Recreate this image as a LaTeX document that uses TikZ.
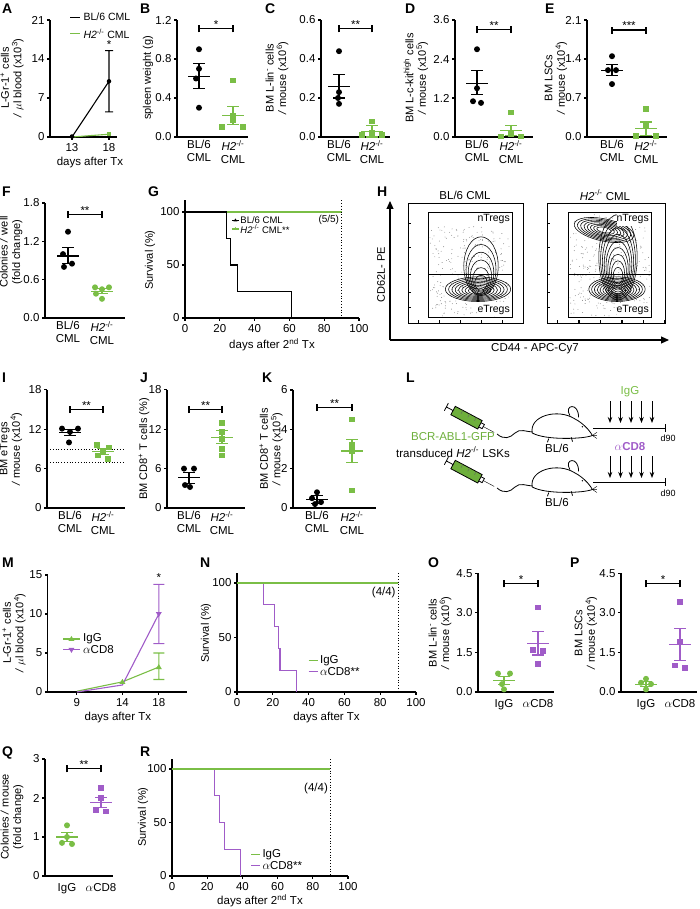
\documentclass[tikz,border=0pt]{standalone}
\usepackage{fontspec}
\setmainfont{Liberation Sans}
\usetikzlibrary{arrows.meta,positioning}
\definecolor{cg}{RGB}{122,190,70}
\definecolor{cp}{RGB}{160,92,200}
\definecolor{syr}{RGB}{110,175,60}
\newcommand\tickfont{\fontsize{11.5}{13}\selectfont}
\newcommand\legfont{\fontsize{10.5}{12}\selectfont}
\newcommand\hko{\textit{H2}\textsuperscript{-/-}}
% mean and sem bar
\newcommand\meansem[4]{\draw[semline] (#1-11,#2)--(#1+11,#2) (#1,#3)--(#1,#4) (#1-6,#3)--(#1+6,#3) (#1-6,#4)--(#1+6,#4);}
% significance bar
\newcommand\sigbar[4]{\draw[semline,black] (#1,#3) ++(0,-3.5pt) -- ++(0,7pt) ++(0,-3.5pt) -- (#2,#3) ++(0,-3.5pt) -- ++(0,7pt);
  \node[above=-1pt,inner sep=1pt] at ({(#1+#2)/2},#3) {#4};}
\tikzset{
  axisl/.style={line width=1.1pt},
  semline/.style={line width=1.1pt},
  tick/.style={left=1pt,inner sep=1pt},
  dotk/.style={circle,fill=black,inner sep=0pt,minimum size=6pt},
  dotg/.style={circle,fill=cg,inner sep=0pt,minimum size=6pt},
  sqg/.style={fill=cg,inner sep=0pt,minimum size=5.6pt},
  sqp/.style={fill=cp,inner sep=0pt,minimum size=5.6pt},
  letter/.style={font=\fontsize{14}{14}\selectfont\bfseries,anchor=north west,inner sep=0pt},
  ylab/.style={rotate=90,align=center,font=\fontsize{11}{12.5}\selectfont},
  cat/.style={below=3pt,align=center,inner sep=0pt},
  cont/.style={line width=0.55pt},
  surv/.style={line width=1.1pt}
}
\begin{document}
\begin{tikzpicture}[x=1pt,y=-1pt,font=\tickfont]
\useasboundingbox (0,0) rectangle (700,909);

% panel letters
\foreach \l/\px/\py in {A/2/4,B/140/4,C/265/4,D/405/4,E/545/4,F/2/187,G/148/187,H/377/187,
  I/2/373,J/140/373,K/262/373,L/406/373,M/2/558,N/200/558,O/428/558,P/570/558,Q/2/747,R/140/747}
  \node[letter] (lt\l) at (\px,\py) {\l};

%%%%% A
\begin{scope}[shift={(50,137)},y=5.571pt]
  \draw[axisl] (0,21) -- (0,0) -- (67,0);
  \foreach \t in {0,7,14,21} \draw[axisl] (0,\t) -- +(-3pt,0) node[tick] {\t};
  \foreach \c/\l in {22/13,59/18} \draw[axisl] (\c,0) -- +(0,-3pt) node[below] {\l};
  \node[below=17pt] at (40,0) {days after Tx};
  \draw[semline] (22,0) -- (59,10) (59,4.5) -- (59,15.5) (55,4.5) -- (63,4.5) (55,15.5) -- (63,15.5);
  \draw[semline,cg] (22,0) -- (59,0.5);
  \node[dotk,minimum size=4.5pt] at (22,0.1) {};
  \node[dotk,minimum size=4.5pt] at (59,10) {};
  \node[sqg,minimum size=4pt] at (59,0.5) {};
  \node[above=-1pt] at (59,15.5) {*};
  \draw[semline] (20,21.5) -- (30,21.5);
  \node[right=0pt,font=\legfont] at (30,21.5) {BL/6 CML};
  \draw[semline,cg] (20,18.5) -- (30,18.5);
  \node[right=0pt,font=\legfont] at (30,18.5) {\hko\ CML};
\end{scope}
\node[ylab] (yA) at (12,78) {L-Gr-1\textsuperscript{+} cells\\\textit{/} $\mu$l blood (x10\textsuperscript{3})};

%%%%% B
\begin{scope}[shift={(177,137)},y=97.5pt]
  \draw[axisl] (0,1.2) -- (0,0) -- (71,0);
  \foreach \t in {0.0,0.4,0.8,1.2} \draw[axisl] (0,\t) -- +(-3pt,0) node[tick] {\t};
  \node[cat] at (22,0) {BL/6\\CML};
  \node[cat] at (56,0) {\hko\\CML};
  \foreach \v/\d in {0.9/0,0.7/0,0.6/-3,0.3/0} \node[dotk] at (22+\d,\v) {};
  \foreach \v/\d in {0.58/0,0.22/0,0.17/0,0.1/-11,0.1/10} \node[sqg] at (56+\d,\v) {};
  \meansem{22}{0.62}{0.5}{0.75}
  \begin{scope}[cg]\meansem{56}{0.22}{0.13}{0.31}\end{scope}
  \sigbar{22}{56}{1.11}{*}
\end{scope}
\node[ylab] (yB) at (148,78) {spleen weight (g)};

%%%%% C
\begin{scope}[shift={(321,137)},y=195pt]
  \draw[axisl] (0,0.6) -- (0,0) -- (69,0);
  \foreach \t in {0.0,0.2,0.4,0.6} \draw[axisl] (0,\t) -- +(-3pt,0) node[tick] {\t};
  \node[cat] at (18,0) {BL/6\\CML};
  \node[cat] at (51,0) {\hko\\CML};
  \foreach \v/\d in {0.44/0,0.23/0,0.2/-1,0.17/0} \node[dotk] at (18+\d,\v) {};
  \foreach \v/\d in {0.08/0,0.02/0,0.01/-10,0.01/10} \node[sqg] at (51+\d,\v) {};
  \meansem{18}{0.26}{0.2}{0.32}
  \begin{scope}[cg]\meansem{51}{0.03}{0}{0.06}\end{scope}
  \sigbar{18}{51}{0.555}{**}
\end{scope}
\node[ylab] (yC) at (277,78) {BM L-lin\textsuperscript{-} cells\\\textit{/} mouse (x10\textsuperscript{6})};

%%%%% D
\begin{scope}[shift={(455,137)},y=32.5pt]
  \draw[axisl] (0,3.6) -- (0,0) -- (78,0);
  \foreach \t in {0.0,1.2,2.4,3.6} \draw[axisl] (0,\t) -- +(-3pt,0) node[tick] {\t};
  \node[cat] at (22,0) {BL/6\\CML};
  \node[cat] at (56,0) {\hko\\CML};
  \foreach \v/\d in {2.7/0,1.5/0,1.1/-4,1.05/4} \node[dotk] at (22+\d,\v) {};
  \foreach \v/\d in {0.75/0,0.1/0,0.02/-10,0.02/10} \node[sqg] at (56+\d,\v) {};
  \meansem{22}{1.65}{1.3}{2.05}
  \begin{scope}[cg]\meansem{56}{0.2}{0.05}{0.35}\end{scope}
  \sigbar{22}{56}{3.3}{**}
\end{scope}
\node[ylab] (yD) at (416,78) {BM L-c-kit\textsuperscript{high} cells\\\textit{/} mouse (x10\textsuperscript{5})};

%%%%% E
\begin{scope}[shift={(587,137)},y=55.71pt]
  \draw[axisl] (0,2.1) -- (0,0) -- (80,0);
  \foreach \t in {0.0,0.7,1.4,2.1} \draw[axisl] (0,\t) -- +(-3pt,0) node[tick] {\t};
  \node[cat] at (25,0) {BL/6\\CML};
  \node[cat] at (59,0) {\hko\\CML};
  \foreach \v/\d in {1.45/0,1.2/-4,1.2/4,0.95/0} \node[dotk] at (25+\d,\v) {};
  \foreach \v/\d in {0.5/0,0.2/0,0.02/-10,0.02/10} \node[sqg] at (59+\d,\v) {};
  \meansem{25}{1.2}{1.1}{1.3}
  \begin{scope}[cg]\meansem{59}{0.15}{0.03}{0.27}\end{scope}
  \sigbar{25}{59}{1.92}{***}
\end{scope}
\node[ylab] (yE) at (556,78) {BM LSCs\\\textit{/} mouse (x10\textsuperscript{4})};

%%%%% F
\begin{scope}[shift={(45,318)},y=63.9pt]
  \draw[axisl] (0,1.8) -- (0,0) -- (80,0);
  \foreach \t in {0.0,0.6,1.2,1.8} \draw[axisl] (0,\t) -- +(-3pt,0) node[tick] {\t};
  \node[cat] at (23,0) {BL/6\\CML};
  \node[cat] at (57,0) {\hko\\CML};
  \foreach \v/\d in {1.35/0,1.0/-5,0.85/4,0.8/-4} \node[dotk] at (23+\d,\v) {};
  \foreach \v/\d in {0.48/-7,0.48/7,0.45/0,0.38/-6,0.3/0} \node[dotg] at (57+\d,\v) {};
  \meansem{23}{0.97}{0.85}{1.1}
  \begin{scope}[cg]\meansem{57}{0.42}{0.38}{0.46}\end{scope}
  \sigbar{23}{57}{1.62}{**}
\end{scope}
\node[ylab] (yF) at (11,252) {Colonies \textit{/} well\\(fold change)};

%%%%% G
\begin{scope}[shift={(185,318)},x=1.74pt,y=1.06pt]
  \draw[axisl] (0,111) -- (0,0) -- (100,0);
  \foreach \t in {0,50,100} \draw[axisl] (0,\t) -- +(-3pt,0) node[tick] {\t};
  \foreach \t in {0,20,...,100} \draw[axisl] (\t,0) -- +(0,-3pt) node[below] {\t};
  \node[below=17pt] at (50,0) {days after 2\textsuperscript{nd} Tx};
  \draw[surv] (0,100) -- (24,100) -- (24,75) -- (26,75) -- (26,50) -- (30,50) -- (30,25) -- (61,25) -- (61,0);
  \draw[surv,cg] (24,100) -- (90,100);
  \draw[dotted,thick] (90,111) -- (90,0);
  \node[left=-1pt,font=\fontsize{10}{11}\selectfont] at (90,93) {(5/5)};
  \draw[semline] (27,92) -- (31,92); \fill (29,92) ++(0,2pt) -- ++(-2pt,-3pt) -- ++(4pt,0) -- cycle;
  \node[right=-2pt,font=\fontsize{9.5}{11}\selectfont] at (31,92) {BL/6 CML};
  \draw[semline,cg] (27,84) -- (31,84); \fill[cg] (29,84) ++(0,2pt) -- ++(-2pt,-3pt) -- ++(4pt,0) -- cycle;
  \node[right=-2pt,font=\fontsize{9.5}{11}\selectfont] at (31,84) {\hko\ CML**};
\end{scope}
\node[ylab] (yG) at (150,260) {Survival (\%)};

%%%%% H
\draw[axisl,-{Triangle[length=8pt,width=7pt]}] (390,340) -- (390,201);
\draw[axisl,-{Triangle[length=8pt,width=7pt]}] (390,340) -- (669,340);
\node[ylab] (yH) at (381,275) {CD62L- PE};
\node (xH) at (535,349) {CD44 - APC-Cy7};
\node (tH1) at (465,195) {BL/6 CML};
\node (tH2) at (605,195) {\hko\ CML};
\draw[thick] (408,203) rectangle (523,323);
\draw[thick] (547,203) rectangle (665,323);
\foreach \bx/\bw in {408/115,547/118}{
  \foreach \k in {0,...,5} \fill ({\bx+10+\k*\bw/5.5},323) rectangle +(1.2,-3);
  \foreach \y in {223,247,274,292,307} \fill (\bx,\y) rectangle +(3,1.2);}
\pgfmathsetseed{7}
\foreach \i in {1,...,260}{
  \pgfmathsetmacro\rx{430+80*rnd}\pgfmathsetmacro\ry{226+90*rnd}
  \fill[gray] (\rx,\ry) circle (0.45pt);}
\foreach \i in {1,...,340}{
  \pgfmathsetmacro\rx{570+80*rnd}\pgfmathsetmacro\ry{214+102*rnd}
  \fill[gray] (\rx,\ry) circle (0.45pt);}
\begin{scope}
  \clip (428,212) rectangle (512,317);
  \foreach \i in {1,...,9} \draw[cont] (478,{291-0.2*\i}) ellipse [x radius={3+3.3*\i}, y radius={1.5+1.2*\i}];
  \foreach \i in {1,...,6} \draw[cont] (481,{286-3.3*\i}) ellipse [x radius={4+2.2*\i}, y radius={3+4.4*\i}];
\end{scope}
\begin{scope}
  \clip (568,212) rectangle (651,317);
  \foreach \i in {1,...,9} \draw[cont] (617,{291-0.2*\i}) ellipse [x radius={3+2.8*\i}, y radius={1.5+1.2*\i}];
  \foreach \i in {1,...,9} \draw[cont] (618,{278-2.3*\i}) ellipse [x radius={3+1.8*\i}, y radius={4+4.3*\i}];
  \foreach \i in {1,...,8} \draw[cont,rotate around={-12:(604,230)}] (604,230) ellipse [x radius={4+3.3*\i}, y radius={1.5+1.2*\i}];
\end{scope}
\draw[thick] (428,212) rectangle (512,317) (428,274) -- (512,274);
\draw[thick] (568,212) rectangle (651,317) (568,274) -- (651,274);
\foreach \gx/\n in {512/1,651/2}{
  \fill[white] ({\gx-34},213) rectangle ({\gx-1},226);
  \node[anchor=north east,inner sep=1pt,font=\legfont] (nT\n) at ({\gx-1},213) {nTregs};
  \fill[white] ({\gx-34},303) rectangle ({\gx-1},316);
  \node[anchor=south east,inner sep=1pt,font=\legfont] (eT\n) at ({\gx-1},316) {eTregs};}

%%%%% I
\begin{scope}[shift={(47,508)},y=6.56pt]
  \draw[axisl] (0,18) -- (0,0) -- (78,0);
  \foreach \t in {0,6,12,18} \draw[axisl] (0,\t) -- +(-3pt,0) node[tick] {\t};
  \node[cat] at (23,0) {BL/6\\CML};
  \node[cat] at (56,0) {\hko\\CML};
  \draw[dotted,thick] (3,9) -- (76,9) (3,7) -- (76,7);
  \foreach \v/\d in {12.1/-8,12.1/8,11.6/0,10/-1} \node[dotk] at (23+\d,\v) {};
  \foreach \v/\d in {9.6/-6,9.2/6,8.5/0,8/-5,7.5/5} \node[sqg] at (56+\d,\v) {};
  \meansem{23}{11.5}{11}{12}
  \begin{scope}[cg]\meansem{56}{8.6}{8.1}{9.1}\end{scope}
  \sigbar{23}{56}{15}{**}
\end{scope}
\node[ylab] (yI) at (11,449) {BM eTregs\\\textit{/} mouse (x10\textsuperscript{4})};

%%%%% J
\begin{scope}[shift={(167,508)},y=6.56pt]
  \draw[axisl] (0,18) -- (0,0) -- (78,0);
  \foreach \t in {0,6,12,18} \draw[axisl] (0,\t) -- +(-3pt,0) node[tick] {\t};
  \node[cat] at (22,0) {BL/6\\CML};
  \node[cat] at (55,0) {\hko\\CML};
  \foreach \v/\d in {6/-5,6/5,3.5/-4,3.2/1} \node[dotk] at (22+\d,\v) {};
  \foreach \v/\d in {13/0,11.6/0,10.5/0,9/0,8/0} \node[sqg] at (55+\d,\v) {};
  \meansem{22}{4.6}{3.8}{5.4}
  \begin{scope}[cg]\meansem{55}{10.8}{9.8}{11.8}\end{scope}
  \sigbar{22}{55}{15}{**}
\end{scope}
\node[ylab] (yJ) at (144,449) {BM CD8\textsuperscript{+} T cells (\%)};

%%%%% K
\begin{scope}[shift={(293,508)},y=19.67pt]
  \draw[axisl] (0,6) -- (0,0) -- (83,0);
  \foreach \t in {0,2,4,6} \draw[axisl] (0,\t) -- +(-3pt,0) node[tick] {\t};
  \node[cat] at (24,0) {BL/6\\CML};
  \node[cat] at (59,0) {\hko\\CML};
  \foreach \v/\d in {0.8/0,0.5/-5,0.3/4,0.2/-2} \node[dotk] at (24+\d,\v) {};
  \foreach \v/\d in {4.5/0,3.2/0,2.9/0,0.9/0} \node[sqg] at (59+\d,\v) {};
  \meansem{24}{0.45}{0.25}{0.65}
  \begin{scope}[cg]\meansem{59}{2.9}{2.3}{3.5}\end{scope}
  \sigbar{24}{59}{5.1}{**}
\end{scope}
\node[ylab] (yK) at (271,449) {BM CD8\textsuperscript{+} T cells\\\textit{/} mouse (x10\textsuperscript{5})};

%%%%% L
\foreach \sy in {0,54}{
  \begin{scope}[yshift=-\sy pt]
    % syringe
    \begin{scope}[shift={(469,419)},rotate=-28,scale=0.95]
      \filldraw[fill=syr,draw=black,thick] (-19,-5) rectangle (13,5);
      \draw[thick] (-19,0) -- (-27,0) (-27,-4.5) -- (-27,4.5) (13,-2.5) -- (17,-2.5) -- (17,2.5) -- (13,2.5);
      \draw (17,0) -- (30,0);
      \foreach \k in {-10,-2,6} \draw[black!60] (\k,-5) -- (\k,-1);
    \end{scope}
    % tail
    \draw[thick] (497,434) .. controls (504,440) and (510,438) .. (515,433) .. controls (520,428) and (526,432) .. (534,432);
    % mouse
    \begin{scope}[shift={(558,428)},xscale=0.66,yscale=0.62]
      \draw[thick,fill=white] (-39,8) .. controls (-44,-20) and (0,-32) .. (25,-15)
        .. controls (38,-8) and (48,4) .. (52,12) .. controls (40,18) and (-20,20) .. (-39,8) -- cycle;
      \draw[thick,fill=white] (18,-20) .. controls (8,-38) and (32,-42) .. (31,-17);
      \draw[thick] (-14,17) -- (-16,23) (20,15) -- (22,22);
      \draw (52,12) -- (59,7) (52,12) -- (59,17) (52,12) -- (59,12);
      \fill (37,-2) circle (1.2pt);
    \end{scope}
  \end{scope}}
\node[text=syr] (bcr) at (453,437) {BCR-ABL1-GFP};
\node (lsk) at (453,452) {transduced \hko\ LSKs};
\node (m1) at (557,448) {BL/6};
\node (m2) at (557,502) {BL/6};
\node[text=cg] (igg) at (630,392) {IgG};
\node[text=cp,font=\tickfont\bfseries] (acd) at (630,447) {$\alpha$CD8};
\foreach \x in {610,620.5,631,641.5,652}{
  \draw[thick,-{Stealth[length=6pt]}] (\x,401) -- (\x,423);
  \draw[thick,-{Stealth[length=6pt]}] (\x,456) -- (\x,478);}
\draw[thick] (593,428) -- (665,428) (665,424) -- (665,432);
\draw[thick] (593,482) -- (665,482) (665,478) -- (665,486);
\node[font=\fontsize{9}{9}\selectfont] (d1) at (668,438) {d90};
\node[font=\fontsize{9}{9}\selectfont] (d2) at (668,493) {d90};

%%%%% M
\begin{scope}[shift={(-5,692)},x=9.1pt,y=7.8pt]
  \draw[axisl] (5.8,15) -- (5.8,0) -- (21.1,0);
  \foreach \t in {0,5,10,15} \draw[axisl] (5.8,\t) -- +(-3pt,0) node[tick] {\t};
  \foreach \t in {9,14,18} \draw[axisl] (\t,0) -- +(0,-3pt) node[below] {\t};
  \node[below=17pt] at (13.5,0) {days after Tx};
  \draw[semline,cg] (9,0.1) -- (14,1.3) -- (18,3.2) (18,1.6) -- (18,5) (17.4,1.6) -- (18.6,1.6) (17.4,5) -- (18.6,5);
  \draw[semline,cp] (9,0) -- (14,0.9) -- (18,10) (18,6.2) -- (18,13.8) (17.4,6.2) -- (18.6,6.2) (17.4,13.8) -- (18.6,13.8);
  \fill[cg] (14,1.3) ++(0,3pt) -- ++(-3pt,-5pt) -- ++(6pt,0) -- cycle;
  \fill[cg] (18,3.2) ++(0,3pt) -- ++(-3pt,-5pt) -- ++(6pt,0) -- cycle;
  \fill[cp] (18,10) ++(0,-3pt) -- ++(-3pt,5pt) -- ++(6pt,0) -- cycle;
  \node[above=-1pt] at (18,13.8) {*};
  \draw[semline,cg] (7.5,6.8) -- (9.3,6.8); \fill[cg] (8.4,6.8) ++(0,3pt) -- ++(-3pt,-5pt) -- ++(6pt,0) -- cycle;
  \node[right=0pt] at (9.3,6.8) {IgG};
  \draw[semline,cp] (7.5,5.4) -- (9.3,5.4); \fill[cp] (8.4,5.4) ++(0,-3pt) -- ++(-3pt,5pt) -- ++(6pt,0) -- cycle;
  \node[right=0pt] at (9.3,5.4) {$\alpha$CD8};
\end{scope}
\node[ylab] (yM) at (14,633) {L-Gr-1\textsuperscript{+} cells\\\textit{/} $\mu$l blood (x10\textsuperscript{4})};

%%%%% N
\begin{scope}[shift={(237,692)},x=1.79pt,y=1.09pt]
  \draw[axisl] (0,109) -- (0,0) -- (100,0);
  \foreach \t in {0,50,100} \draw[axisl] (0,\t) -- +(-3pt,0) node[tick] {\t};
  \foreach \t in {0,20,...,100} \draw[axisl] (\t,0) -- +(0,-3pt) node[below] {\t};
  \node[below=17pt] at (50,0) {days after Tx};
  \draw[surv,cp] (15,100) -- (15,80) -- (21,80) -- (21,60) -- (23,60) -- (23,40) -- (24,40) -- (24,20) -- (33,20) -- (33,0);
  \draw[surv,cg] (0,100) -- (90,100);
  \draw[dotted,thick] (90,109) -- (90,0);
  \node[left=-1pt] at (90,91) {(4/4)};
  \draw[semline,cg] (40,29) -- (45,29); \node[right=-1pt] at (45,29) {IgG};
  \draw[semline,cp] (40,19) -- (45,19); \node[right=-1pt] at (45,19) {$\alpha$CD8**};
\end{scope}
\node[ylab] (yN) at (206,633) {Survival (\%)};

%%%%% O
\begin{scope}[shift={(478,692)},y=26.4pt]
  \draw[axisl] (0,4.5) -- (0,0) -- (76,0);
  \foreach \t in {0.0,1.5,3.0,4.5} \draw[axisl] (0,\t) -- +(-3pt,0) node[tick] {\t};
  \node[below=4pt] at (26,0) {IgG};
  \node[below=4pt] at (60,0) {$\alpha$CD8};
  \foreach \v/\d in {0.7/-6,0.7/6,0.3/-2,0.1/0} \node[dotg] at (26+\d,\v) {};
  \foreach \v/\d in {3.2/0,1.6/-5,1.55/5,1.05/0} \node[sqp] at (60+\d,\v) {};
  \begin{scope}[cg]\meansem{26}{0.45}{0.3}{0.6}\end{scope}
  \begin{scope}[cp]\meansem{60}{1.85}{1.4}{2.3}\end{scope}
  \sigbar{26}{60}{4.1}{*}
\end{scope}
\node[ylab] (yO) at (440,633) {BM L-lin\textsuperscript{-} cells\\\textit{/} mouse (x10\textsuperscript{6})};

%%%%% P
\begin{scope}[shift={(621,692)},y=26.4pt]
  \draw[axisl] (0,4.5) -- (0,0) -- (76,0);
  \foreach \t in {0.0,1.5,3.0,4.5} \draw[axisl] (0,\t) -- +(-3pt,0) node[tick] {\t};
  \node[below=4pt] at (25,0) {IgG};
  \node[below=4pt] at (59,0) {$\alpha$CD8};
  \foreach \v/\d in {0.5/0,0.35/-5,0.3/5,0.1/0} \node[dotg] at (25+\d,\v) {};
  \foreach \v/\d in {3.4/0,1.9/0,1.0/-5,0.9/5} \node[sqp] at (59+\d,\v) {};
  \begin{scope}[cg]\meansem{25}{0.3}{0.2}{0.4}\end{scope}
  \begin{scope}[cp]\meansem{59}{1.8}{1.2}{2.4}\end{scope}
  \sigbar{25}{59}{4.1}{*}
\end{scope}
\node[ylab] (yP) at (586,633) {BM LSCs\\\textit{/} mouse (x10\textsuperscript{4})};

%%%%% Q
\begin{scope}[shift={(45,876)},y=39pt]
  \draw[axisl] (0,3) -- (0,0) -- (68,0);
  \foreach \t in {0,1,2,3} \draw[axisl] (0,\t) -- +(-3pt,0) node[tick] {\t};
  \node[below=4pt] at (22,0) {IgG};
  \node[below=4pt] at (56,0) {$\alpha$CD8};
  \foreach \v/\d in {1.3/0,1.0/0,0.85/-5,0.82/5} \node[dotg] at (22+\d,\v) {};
  \foreach \v/\d in {2.25/0,2.0/0,1.7/-5,1.65/5} \node[sqp] at (56+\d,\v) {};
  \begin{scope}[cg]\meansem{22}{1.0}{0.88}{1.12}\end{scope}
  \begin{scope}[cp]\meansem{56}{1.88}{1.75}{2.02}\end{scope}
  \sigbar{22}{56}{2.75}{**}
\end{scope}
\node[ylab] (yQ) at (12,817) {Colonies \textit{/} mouse\\(fold change)};

%%%%% R
\begin{scope}[shift={(172,876)},x=1.76pt,y=1.07pt]
  \draw[axisl] (0,109) -- (0,0) -- (100,0);
  \foreach \t in {0,50,100} \draw[axisl] (0,\t) -- +(-3pt,0) node[tick] {\t};
  \foreach \t in {0,20,...,100} \draw[axisl] (\t,0) -- +(0,-3pt) node[below] {\t};
  \node[below=15pt] at (50,0) {days after 2\textsuperscript{nd} Tx};
  \draw[surv,cp] (24,100) -- (24,75) -- (27,75) -- (27,50) -- (30,50) -- (30,25) -- (39,25) -- (39,0);
  \draw[surv,cg] (0,100) -- (90,100);
  \draw[dotted,thick] (90,109) -- (90,0);
  \node[left=-1pt] at (90,82) {(4/4)};
  \draw[semline,cg] (45,20) -- (50,20); \node[right=-1pt] at (50,20) {IgG};
  \draw[semline,cp] (45,10) -- (50,10); \node[right=-1pt] at (50,10) {$\alpha$CD8**};
\end{scope}
\node[ylab] (yR) at (143,817) {Survival (\%)};
\end{tikzpicture}
\end{document}
